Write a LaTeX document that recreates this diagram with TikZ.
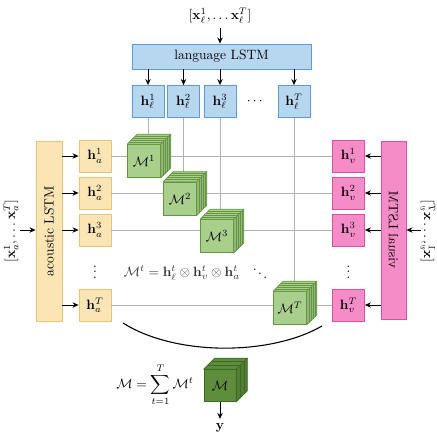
\documentclass[tikz,border=0pt]{standalone}
\usepackage{amsmath,amssymb}
\usetikzlibrary{calc,arrows.meta}
\definecolor{lblue}{RGB}{183,214,240}
\definecolor{dblue}{RGB}{95,155,210}
\definecolor{lyel}{RGB}{252,229,180}
\definecolor{dyel}{RGB}{232,196,120}
\definecolor{lpink}{RGB}{245,140,200}
\definecolor{dpink}{RGB}{222,80,155}
\definecolor{lgreen}{RGB}{168,208,140}
\definecolor{dgreen}{RGB}{100,150,65}
\definecolor{bgreen}{RGB}{94,142,60}
\definecolor{bgreend}{RGB}{60,105,35}
\definecolor{gline}{RGB}{178,178,178}
\def\pxu{0.026cm}
\newcommand\cubefaces[5]{%
 \filldraw[fill=#3,draw=#4,line width=0.5pt,line join=round] (#1.north west) -- ++(#2,-#2) -- ($(#1.north east)+(#2,-#2)$) -- (#1.north east) -- cycle;
 \filldraw[fill=#3!88!black,draw=#4,line width=0.5pt,line join=round] (#1.north east) -- ++(#2,-#2) -- ($(#1.south east)+(#2,-#2)$) -- (#1.south east) -- cycle;
 \foreach \k in {#5}{\draw[#4,line width=0.25pt] ($(#1.north west)+(\k*#2,-\k*#2)$) -- ($(#1.north east)+(\k*#2,-\k*#2)$) -- ($(#1.south east)+(\k*#2,-\k*#2)$);}
}
\begin{document}
\begin{tikzpicture}[x=\pxu,y=-\pxu,
 box/.style={draw,line width=0.6pt,inner sep=0pt},
 hb/.style={box,minimum width=32*\pxu,minimum height=32*\pxu},
 bl/.style={fill=lblue,draw=dblue},
 ye/.style={fill=lyel,draw=dyel},
 pk/.style={fill=lpink,draw=dpink},
 arr/.style={-{Stealth[length=4.5pt,width=4pt]},line width=0.6pt},
 grid/.style={draw=gline,line width=0.7pt},
 cubef/.style={draw=dgreen,fill=lgreen,line width=0.5pt,minimum size=33*\pxu,inner sep=0pt}]
\useasboundingbox (0,0) rectangle (437,439);

% language branch
\node (xl) at (220,16) {$[\mathbf{x}_\ell^1,\dots\mathbf{x}_\ell^T]$};
\node[box,bl,minimum width=179*\pxu,minimum height=25*\pxu] (lang) at (221.5,56.5) {language LSTM};
\draw[arr] (xl.south) -- (xl.south |- lang.north);
\node[hb,bl] (hl1) at (148,101.5) {$\mathbf{h}_\ell^1$};
\node[hb,bl] (hl2) at (183.5,101.5) {$\mathbf{h}_\ell^2$};
\node[hb,bl] (hl3) at (220,101.5) {$\mathbf{h}_\ell^3$};
\node[hb,bl] (hl4) at (294,101.5) {$\mathbf{h}_\ell^T$};
\node (dh) at (256,101) {$\cdots$};
\foreach \n in {hl1,hl2,hl3,hl4}{\draw[arr] (lang.south -| \n) -- (\n.north);}

% acoustic branch
\node[box,ye,minimum width=26*\pxu,minimum height=180*\pxu] (ac) at (49,231) {};
\node[rotate=90] (act) at (ac.center) {acoustic LSTM};
\node[rotate=90] (xa) at (11,231) {$[\mathbf{x}_a^1,\dots\mathbf{x}_a^T]$};
\coordinate (xain) at (20,230);
\draw[arr] (xain) -- (xain -| ac.west);
\node[hb,ye] (ha1) at (95,156) {$\mathbf{h}_a^1$};
\node[hb,ye] (ha2) at (95,193) {$\mathbf{h}_a^2$};
\node[hb,ye] (ha3) at (95,230) {$\mathbf{h}_a^3$};
\node[hb,ye] (ha4) at (95,305) {$\mathbf{h}_a^T$};
\node (dl) at (95,268) {$\vdots$};
\foreach \n in {ha1,ha2,ha3,ha4}{\draw[arr] (ac.east |- \n) -- (\n.west);}

% visual branch
\node[box,pk,minimum width=25*\pxu,minimum height=178*\pxu] (vi) at (393.5,230) {};
\node[rotate=90,yscale=-1] (vit) at (vi.center) {visual LSTM};
\node[rotate=90,yscale=-1] (xv) at (428,231) {$[\mathbf{x}_v^1,\dots\mathbf{x}_v^T]$};
\coordinate (xvin) at (421,230);
\draw[arr] (xvin) -- (xvin -| vi.east);
\node[hb,pk] (hv1) at (348.5,156) {$\mathbf{h}_v^1$};
\node[hb,pk] (hv2) at (348.5,193) {$\mathbf{h}_v^2$};
\node[hb,pk] (hv3) at (348.5,230) {$\mathbf{h}_v^3$};
\node[hb,pk] (hv4) at (348.5,305) {$\mathbf{h}_v^T$};
\node (dr) at (348.5,268) {$\vdots$};
\foreach \n in {hv1,hv2,hv3,hv4}{\draw[arr] (vi.west |- \n) -- (\n.east);}

% grid lines
\foreach \i in {1,2,3,4}{\draw[grid] (ha\i.east) -- (hv\i.west);}
\foreach \i in {1,2,3,4}{\draw[grid] (hl\i.south) -- (hl\i.south |- ha\i.east);}

% cubes
\node[cubef] (m1) at (144,161) {$\mathcal{M}^1$};
\cubefaces{m1}{10}{lgreen}{dgreen}{0.2,0.4,0.6,0.8}
\node[cubef] (m2) at (180,198.5) {$\mathcal{M}^2$};
\cubefaces{m2}{10}{lgreen}{dgreen}{0.2,0.4,0.6,0.8}
\node[cubef] (m3) at (217,236) {$\mathcal{M}^3$};
\cubefaces{m3}{10}{lgreen}{dgreen}{0.2,0.4,0.6,0.8}
\node[cubef] (mT) at (290,308) {$\mathcal{M}^T$};
\cubefaces{mT}{10}{lgreen}{dgreen}{0.2,0.4,0.6,0.8}

\node[text=black!80,anchor=west] (eq1) at (119,273) {$\mathcal{M}^t = \mathbf{h}_\ell^t \otimes \mathbf{h}_v^t \otimes \mathbf{h}_a^t$};
\node (dd) at (260,270) {$\ddots$};

% sum
\coordinate (c1) at (123,323);
\coordinate (c2) at (322,326);
\draw[line width=0.8pt] (c1) .. controls (175,356) and (270,356) .. (c2);
\node (eq2) at (155,385) {$\displaystyle \mathcal{M} = \sum_{t=1}^{T} \mathcal{M}^t$};
\node[cubef,fill=bgreen,draw=bgreend,minimum size=32*\pxu] (mm) at (220,385.5) {$\mathcal{M}$};
\cubefaces{mm}{11}{bgreen}{bgreend}{0.35,0.7}
\node (yy) at (220,428) {$\mathbf{y}$};
\draw[arr] (mm.south) -- (yy.north);
\end{tikzpicture}
\end{document}
